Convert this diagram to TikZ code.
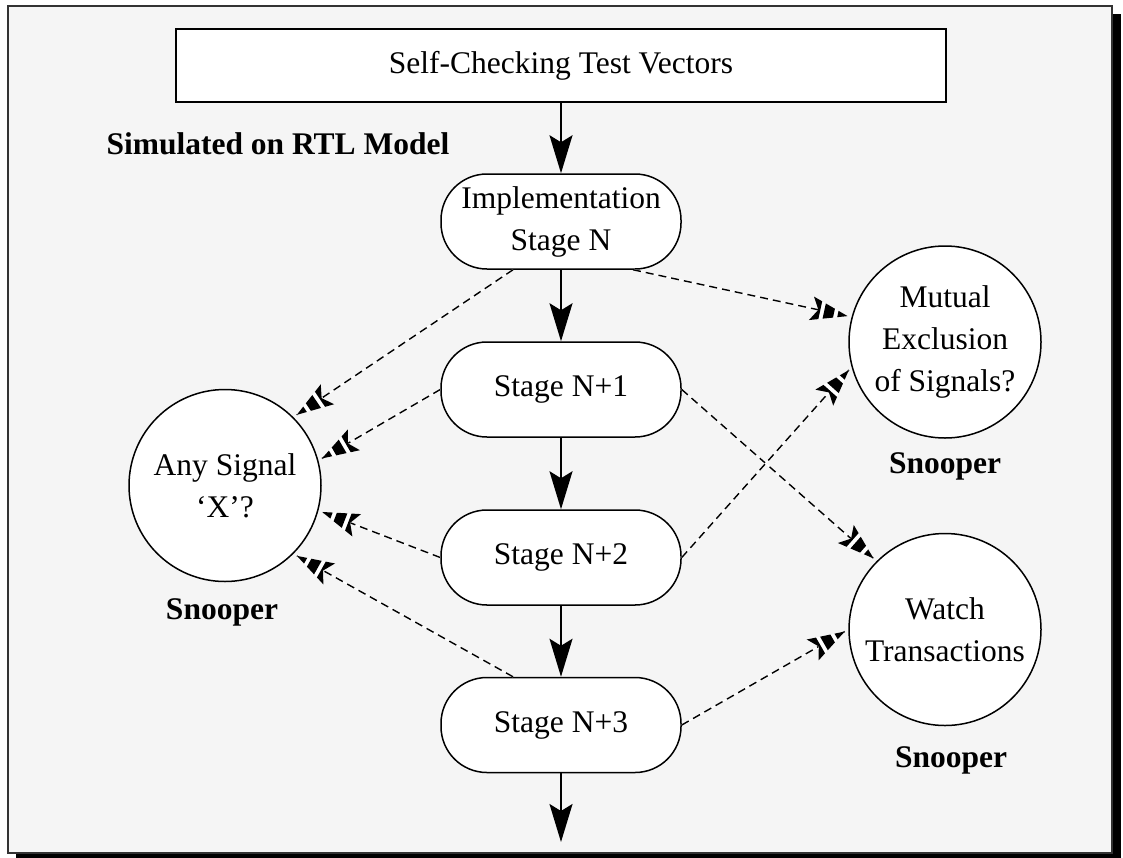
\documentclass[tikz,border=0pt]{standalone}
\usepackage{fontspec}
\setmainfont{Liberation Serif}
\usetikzlibrary{arrows.meta,calc}

\definecolor{panel}{HTML}{F5F5F5}
\definecolor{rim}{HTML}{333333}

\tikzset{
  % striped arrow head: tip at the origin, tail along +x
  stripetip/.pic={
    \fill[white] (0,0) -- (37,12) -- (30,0) -- (37,-12) -- cycle;
    \begin{scope}
      \clip (0,0) -- (37,12) -- (30,0) -- (37,-12) -- cycle;
      \draw[line width=30pt, dash pattern=on 10pt off 4pt] (0,0) -- (40,0);
    \end{scope}
  }
}

% dashed probe from a pipeline stage to a snooper
\newcommand\probe[2]{%
  \draw[white, line width=1.4pt, shorten >=4pt] (#1) -- (#2);
  \draw[line width=1.4pt, dash pattern=on 8pt off 5pt, shorten >=4pt]
    (#1) -- coordinate[pos=0] (ps) coordinate[pos=1] (pe) (#2);
  \path let \p1=($(ps)-(pe)$), \n1={atan2(\y1,\x1)},
            \p2=($(pe)!4pt!(ps)$) in (\p2) pic[rotate=\n1] {stripetip};
}

\begin{document}
\begin{tikzpicture}[x=1pt, y=-1pt,
  every node/.style={font=\fontsize{31.5}{42}\selectfont},
  stagebox/.style={draw, line width=1.5pt, fill=white, rounded corners=46pt,
    minimum width=240pt, minimum height=95pt, inner sep=0pt, align=center},
  snoopnode/.style={draw, circle, line width=1.5pt, fill=white,
    minimum size=192pt, inner sep=0pt, align=center},
  tag/.style={font=\fontsize{31.5}{42}\selectfont\bfseries, anchor=base},
  flow/.style={line width=1.8pt, -{Stealth[length=38pt, width=23pt, inset=7pt]}}
]
\useasboundingbox (0,0) rectangle (1123,857);

% panel with drop shadow
\fill[black] (16,14) rectangle (1121,862);
\draw[line width=2pt, draw=rim, fill=panel] (8,6) rectangle (1112,853);

% source of stimuli
\node[draw, line width=1.5pt, fill=white, minimum width=770pt,
      minimum height=73pt, inner sep=0pt] (vec) at (561,65.5) {Self-Checking Test Vectors};
\node[tag, anchor=base west] (rtl) at (103,154) {Simulated on RTL Model};

% pipeline stages
\node[stagebox] (impl) at (561,221.5) {Implementation\\Stage N};
\node[stagebox] (n1) at (561,389.5) {Stage N+1};
\node[stagebox] (n2) at (561,557.5) {Stage N+2};
\node[stagebox] (n3) at (561,725) {Stage N+3};
\coordinate (out) at (561,842);

% snoopers
\node[snoopnode] (anyx) at (225,485.5) {Any Signal\\`X'?};
\node[snoopnode] (mutex) at (945,342) {Mutual\\Exclusion\\of Signals?};
\node[snoopnode] (watch) at (945,629.5) {Watch\\Transactions};

\node[tag] (tagl) at (222,619) {Snooper};
\node[tag] (tagm) at (945,473) {Snooper};
\node[tag] (tagw) at (951,767) {Snooper};

% main flow
\draw[flow] (vec) -- (impl);
\draw[flow] (impl) -- (n1);
\draw[flow] (n1) -- (n2);
\draw[flow] (n2) -- (n3);
\draw[flow] (n3) -- (out);

% probes
\probe{[xshift=-48pt]impl.south}{anyx.45}
\probe{[xshift=72pt]impl.south}{mutex.165}
\probe{n1.west}{anyx.15}
\probe{n1.east}{watch.135}
\probe{n2.west}{anyx.-15}
\probe{n2.east}{mutex.195}
\probe{[xshift=-48pt]n3.north}{anyx.-45}
\probe{n3.east}{watch.180}
\end{tikzpicture}
\end{document}
